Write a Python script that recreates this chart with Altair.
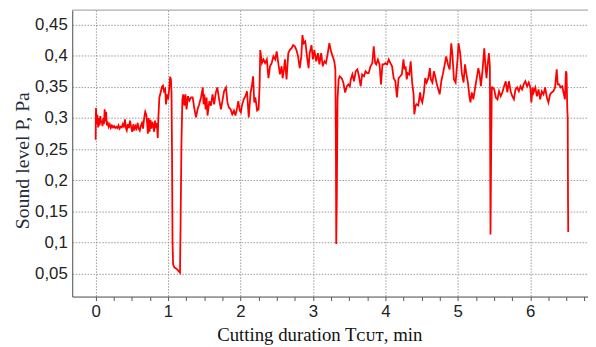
import altair as alt
import pandas as pd

# Cutting duration (min) and sound level (Pa)
time_min = [
    0.000, 0.005, 0.015, 0.025, 0.035, 0.045, 0.055, 0.065, 0.075, 0.085,
    0.095, 0.105, 0.115, 0.125, 0.135, 0.145, 0.155, 0.165, 0.180, 0.195,
    0.210, 0.225, 0.240, 0.255, 0.270, 0.285, 0.300, 0.315, 0.330, 0.345,
    0.360, 0.375, 0.390, 0.405, 0.420, 0.430, 0.445, 0.460, 0.475, 0.490,
    0.505, 0.520, 0.535, 0.550, 0.565, 0.580, 0.595, 0.610, 0.625, 0.640,
    0.655, 0.670, 0.685, 0.700, 0.712, 0.722, 0.732, 0.745, 0.757, 0.770,
    0.782, 0.795, 0.808, 0.820, 0.832, 0.845, 0.858, 0.866, 0.880, 0.900,
    0.915, 0.930, 0.945, 0.960, 0.972, 0.985, 1.000, 1.015, 1.028, 1.040,
    1.048, 1.055, 1.062, 1.070, 1.090, 1.120, 1.150, 1.165, 1.175, 1.185,
    1.198, 1.210, 1.225, 1.240, 1.255, 1.275, 1.296, 1.318, 1.340, 1.362,
    1.386, 1.408, 1.430, 1.455, 1.480, 1.490, 1.500, 1.520, 1.532, 1.545,
    1.570, 1.592, 1.614, 1.636, 1.660, 1.680, 1.705, 1.730, 1.750, 1.773,
    1.800, 1.820, 1.840, 1.864, 1.886, 1.910, 1.930, 1.955, 1.970, 1.990,
    2.005, 2.020, 2.045, 2.068, 2.090, 2.114, 2.140, 2.160, 2.174, 2.190,
    2.205, 2.230, 2.250, 2.264, 2.273, 2.296, 2.318, 2.340, 2.364, 2.386,
    2.408, 2.430, 2.455, 2.480, 2.500, 2.522, 2.545, 2.568, 2.582, 2.600,
    2.614, 2.636, 2.660, 2.680, 2.705, 2.727, 2.750, 2.773, 2.795, 2.818,
    2.840, 2.855, 2.873, 2.895, 2.918, 2.940, 2.955, 2.980, 3.000, 3.020,
    3.045, 3.070, 3.090, 3.114, 3.136, 3.160, 3.180, 3.205, 3.227, 3.250,
    3.273, 3.295, 3.310, 3.318, 3.322, 3.330, 3.340, 3.355, 3.370, 3.397,
    3.420, 3.445, 3.470, 3.490, 3.510, 3.523, 3.545, 3.568, 3.590, 3.614,
    3.636, 3.660, 3.680, 3.705, 3.727, 3.750, 3.770, 3.795, 3.820, 3.840,
    3.860, 3.874, 3.897, 3.920, 3.940, 3.960, 3.980, 4.000, 4.025, 4.047,
    4.070, 4.093, 4.115, 4.138, 4.160, 4.183, 4.206, 4.228, 4.250, 4.265,
    4.280, 4.295, 4.310, 4.330, 4.350, 4.370, 4.390, 4.400, 4.418, 4.430,
    4.455, 4.480, 4.493, 4.510, 4.533, 4.550, 4.570, 4.593, 4.615, 4.628,
    4.650, 4.670, 4.688, 4.706, 4.730, 4.750, 4.773, 4.797, 4.820, 4.840,
    4.865, 4.888, 4.910, 4.925, 4.947, 4.970, 5.000, 5.010, 5.033, 5.056,
    5.080, 5.100, 5.120, 5.140, 5.160, 5.175, 5.193, 5.215, 5.240, 5.262,
    5.284, 5.302, 5.320, 5.343, 5.366, 5.380, 5.397, 5.410, 5.430, 5.443,
    5.452, 5.462, 5.470, 5.480, 5.503, 5.525, 5.548, 5.570, 5.593, 5.615,
    5.640, 5.662, 5.684, 5.706, 5.730, 5.752, 5.775, 5.797, 5.820, 5.843,
    5.866, 5.888, 5.910, 5.933, 5.957, 5.980, 6.002, 6.016, 6.034, 6.047,
    6.070, 6.093, 6.115, 6.138, 6.160, 6.184, 6.206, 6.230, 6.252, 6.275,
    6.297, 6.320, 6.343, 6.366, 6.380, 6.400, 6.420, 6.443, 6.460, 6.480,
    6.493, 6.502, 6.512, 6.518, 6.522, 6.525,
]

sound_pa = [
    0.265, 0.316, 0.290, 0.305, 0.285, 0.300, 0.288, 0.303, 0.292, 0.296,
    0.287, 0.300, 0.290, 0.314, 0.294, 0.310, 0.288, 0.294, 0.286, 0.290,
    0.284, 0.288, 0.285, 0.287, 0.284, 0.286, 0.284, 0.288, 0.283, 0.286,
    0.285, 0.290, 0.285, 0.298, 0.283, 0.280, 0.290, 0.284, 0.296, 0.286,
    0.278, 0.290, 0.280, 0.287, 0.283, 0.292, 0.283, 0.280, 0.288, 0.292,
    0.283, 0.300, 0.310, 0.305, 0.290, 0.275, 0.300, 0.278, 0.297, 0.283,
    0.294, 0.288, 0.278, 0.296, 0.284, 0.292, 0.268, 0.300, 0.333, 0.342,
    0.350, 0.352, 0.343, 0.346, 0.322, 0.338, 0.330, 0.345, 0.366, 0.362,
    0.340, 0.240, 0.100, 0.065, 0.060, 0.058, 0.054, 0.052, 0.150, 0.260,
    0.330, 0.338, 0.320, 0.338, 0.314, 0.335, 0.328, 0.333, 0.333, 0.316,
    0.301, 0.314, 0.322, 0.333, 0.349, 0.322, 0.338, 0.314, 0.333, 0.304,
    0.327, 0.320, 0.338, 0.322, 0.341, 0.349, 0.330, 0.314, 0.327, 0.343,
    0.349, 0.325, 0.317, 0.314, 0.306, 0.312, 0.304, 0.317, 0.327, 0.312,
    0.309, 0.320, 0.330, 0.335, 0.343, 0.301, 0.341, 0.354, 0.367, 0.325,
    0.333, 0.312, 0.314, 0.352, 0.409, 0.388, 0.394, 0.388, 0.394, 0.364,
    0.383, 0.388, 0.399, 0.394, 0.407, 0.388, 0.370, 0.383, 0.364, 0.378,
    0.394, 0.362, 0.404, 0.409, 0.412, 0.417, 0.415, 0.409, 0.399, 0.380,
    0.399, 0.433, 0.420, 0.423, 0.399, 0.380, 0.404, 0.417, 0.394, 0.409,
    0.391, 0.404, 0.386, 0.404, 0.383, 0.391, 0.388, 0.404, 0.420, 0.407,
    0.399, 0.391, 0.378, 0.238, 0.098, 0.170, 0.330, 0.362, 0.367, 0.364,
    0.357, 0.341, 0.351, 0.354, 0.351, 0.362, 0.370, 0.359, 0.375, 0.378,
    0.367, 0.351, 0.370, 0.367, 0.375, 0.372, 0.372, 0.383, 0.388, 0.415,
    0.388, 0.386, 0.394, 0.386, 0.354, 0.386, 0.386, 0.388, 0.386, 0.394,
    0.388, 0.383, 0.364, 0.359, 0.333, 0.364, 0.367, 0.370, 0.394, 0.378,
    0.383, 0.362, 0.372, 0.370, 0.391, 0.357, 0.338, 0.306, 0.320, 0.322,
    0.320, 0.341, 0.330, 0.325, 0.341, 0.364, 0.357, 0.364, 0.380, 0.362,
    0.357, 0.375, 0.367, 0.357, 0.346, 0.338, 0.359, 0.372, 0.386, 0.399,
    0.386, 0.378, 0.420, 0.404, 0.362, 0.357, 0.399, 0.420, 0.404, 0.372,
    0.357, 0.386, 0.370, 0.357, 0.335, 0.325, 0.341, 0.330, 0.349, 0.364,
    0.380, 0.370, 0.351, 0.378, 0.412, 0.386, 0.364, 0.383, 0.404, 0.383,
    0.113, 0.260, 0.349, 0.349, 0.346, 0.333, 0.330, 0.343, 0.335, 0.341,
    0.351, 0.359, 0.341, 0.359, 0.343, 0.335, 0.330, 0.346, 0.349, 0.343,
    0.351, 0.346, 0.354, 0.359, 0.351, 0.357, 0.349, 0.325, 0.349, 0.341,
    0.349, 0.335, 0.346, 0.330, 0.343, 0.338, 0.349, 0.333, 0.325, 0.338,
    0.341, 0.343, 0.349, 0.378, 0.354, 0.354, 0.349, 0.351, 0.341, 0.330,
    0.375, 0.372, 0.314, 0.300, 0.170, 0.117,
]

x_ticks = [i * 0.25 for i in range(28)]          # 0 .. 6.75, labels on whole minutes
y_ticks = [0.05, 0.10, 0.15, 0.20, 0.25, 0.30, 0.35, 0.40, 0.45]

df = pd.DataFrame({"t": time_min, "p": sound_pa})

W, H = 522, 290
X_DOMAIN = [-0.323, 6.798]
Y_DOMAIN = [0.0136, 0.4733]

line = alt.Chart(df).mark_line(color="#ff0000", strokeWidth=1.8).encode(
    x=alt.X(
        "t:Q",
        scale=alt.Scale(domain=X_DOMAIN, nice=False, zero=False),
        axis=alt.Axis(
            values=x_ticks,
            format="~g",
            labelExpr="datum.value % 1 === 0 ? datum.label : ''",
            title="Cutting duration Tᴄᴜᴛ, min",
            titleFont="Liberation Serif",
            titleFontSize=19,
            titleFontWeight="normal",
            titleColor="#111111",
            titleX=250,
            titleY=44,
            titleAnchor="middle",
            titleAlign="center",
            titleBaseline="alphabetic",
            labelFont="Liberation Sans",
            labelFontSize=17,
            labelColor="#222222",
            labelPadding=3,
            labelFlush=False,
            labelOverlap=False,
            tickSize=4,
            tickColor="#555555",
            domainColor="#555555",
            grid=True,
            gridColor="#999999",
            gridDash=[1.5, 1.5],
            gridOpacity={"condition": {"test": "datum.value % 1 === 0", "value": 1}, "value": 0},
        ),
    ),
    y=alt.Y(
        "p:Q",
        scale=alt.Scale(domain=Y_DOMAIN, nice=False, zero=False),
        axis=alt.Axis(
            values=y_ticks,
            labelExpr="replace(format(datum.value, '.2~f'), '.', ',')",
            title="Sound level P, Pa",
            titleFont="Liberation Serif",
            titleFontSize=20,
            titleFontWeight="normal",
            titleColor="#222b3a",
            titleAngle=270,
            titleX=-44,
            titleY=152,
            titleAlign="center",
            titleBaseline="alphabetic",
            labelFont="Liberation Sans",
            labelFontSize=17,
            labelColor="#222222",
            labelPadding=5,
            ticks=False,
            domainColor="#555555",
            grid=True,
            gridColor="#999999",
            gridDash=[1.5, 1.5],
        ),
    ),
)

top_border = alt.Chart(pd.DataFrame({"k": [0]})).mark_rule(
    color="#aaaaaa", strokeWidth=1
).encode(x=alt.value(0), x2=alt.value(W), y=alt.value(0))

chart = alt.layer(top_border, line).properties(
    width=W,
    height=H,
    autosize=alt.AutoSizeParams(type="none"),
    padding={"left": 65, "top": 0, "right": 0, "bottom": 48},
).configure_view(stroke=None).configure(background="white")

chart.save("out.html", embed_options={"renderer": "svg", "actions": False})
